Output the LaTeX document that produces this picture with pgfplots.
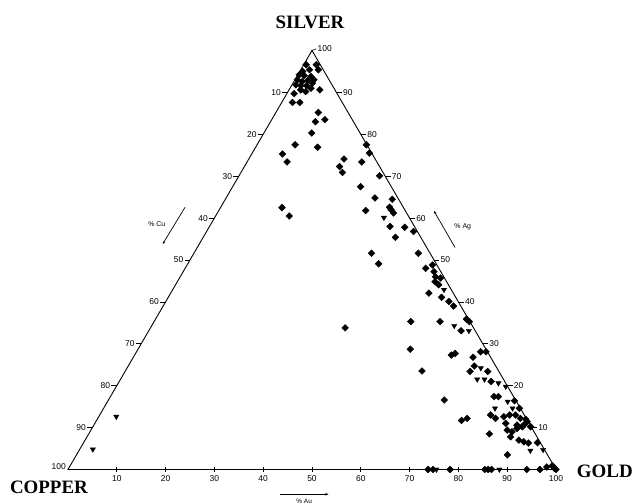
\documentclass[border=0pt]{standalone}
\usepackage{pgfplots}
\pgfplotsset{compat=1.18}
\usepackage{pgfplotstable}
\usepackage{fontspec}
\setmainfont{Liberation Serif}
\newfontfamily\tickfont{Liberation Sans}
\usetikzlibrary{arrows.meta}

% compositions in percent: au = gold, ag = silver (copper = 100 - au - ag)
\pgfplotstableread{
au ag
0.5 96.6
2.6 96.6
3.6 95.4
0.6 95.0
1.8 95.4
0.3 94.2
1.4 94.0
2.9 93.8
0.5 93.0
1.7 92.6
2.7 92.8
3.9 93.0
0.8 91.8
1.9 91.6
3.1 91.6
4.0 92.2
2.4 90.6
3.6 90.2
4.3 91.0
6.3 90.6
1.5 89.7
2.2 87.6
3.7 87.6
8.7 85.2
9.2 83.0
10.9 83.5
9.8 80.3
7.8 77.5
12.7 76.9
6.3 75.3
8.2 73.4
12.6 62.5
15.1 60.5
22.4 77.5
24.0 75.5
19.5 74.1
23.5 73.4
19.5 72.3
20.8 70.9
28.8 70.1
26.2 67.5
30.5 64.8
34.2 64.5
30.1 61.8
34.6 62.6
35.2 62.0
36.1 61.2
37.0 58.0
40.1 57.8
42.4 56.8
39.4 55.4
36.4 51.6
46.0 51.6
39.1 49.1
49.3 48.0
50.3 48.8
51.4 47.2
52.3 46.0
53.5 45.7
52.8 44.8
52.9 42.1
53.9 44.1
56.0 41.1
58.0 40.1
59.5 39.0
52.6 35.3
58.6 35.3
63.7 35.9
64.6 35.3
64.0 33.1
55.8 28.7
64.9 27.3
65.5 27.7
69.6 26.8
70.5 28.1
71.6 28.1
39.9 33.8
60.8 23.5
70.9 24.7
74.3 23.4
70.7 23.4
76.2 21.0
78.6 17.4
79.5 17.4
83.3 16.4
68.8 16.6
85.2 14.6
80.1 13.0
81.5 12.2
83.0 12.6
84.0 13.0
85.2 13.0
86.6 12.2
87.8 12.0
88.4 11.4
74.8 11.7
75.7 12.2
84.2 11.0
86.7 10.6
88.1 10.6
89.7 10.2
82.1 8.5
85.3 9.4
86.5 9.0
87.1 9.8
88.0 10.2
86.8 7.8
88.9 7.0
90.1 6.6
91.2 6.3
93.0 6.4
88.3 3.5
73.8 0
74.8 0
78.3 0
85.4 0
86.1 0
86.8 0
94.0 0
96.7 0
97.8 0.6
98.8 0.9
99.5 0.3
100 0
}\dots

\pgfplotstableread{
au ag
34.7 60.1
55.6 42.9
62.0 34.3
65.6 33.1
72.5 24.2
73.1 21.5
74.6 21.5
77.9 20.6
79.8 19.8
82.0 16.2
80.2 14.6
83.8 14.6
92.5 4.5
95.0 4.7
3.6 12.6
2.7 4.8
75.5 0
88.4 0
}\tris

\begin{document}
\begin{tikzpicture}
\begin{axis}[x=4.88bp, y=4.19bp, hide axis, clip=false,
  xmin=-13.93, xmax=116.6, ymin=-8.23, ymax=112.05]
  % triangle frame
  \draw[line width=0.9bp, line join=miter] (axis cs:0,0) -- (axis cs:100,0) -- (axis cs:50,100) -- cycle;
  % ticks and labels
  \pgfplotsinvokeforeach{10,20,...,90}{
    \draw[line width=0.6bp] (axis cs:#1,-0.6) -- (axis cs:#1,0.6);
    \node[font=\tickfont\fontsize{8.5}{9}\selectfont, anchor=north, inner sep=0pt] at (axis cs:#1,-1.3) {#1};
    \draw[line width=0.6bp] (axis cs:{#1/2},#1) -- (axis cs:{#1/2-1.1},#1)
      node[anchor=east, inner sep=1bp, font=\tickfont\fontsize{8.5}{9}\selectfont] {\pgfmathparse{int(100-#1)}\pgfmathresult};
    \draw[line width=0.6bp] (axis cs:{100-#1/2},#1) -- (axis cs:{101.1-#1/2},#1)
      node[anchor=west, inner sep=1bp, font=\tickfont\fontsize{8.5}{9}\selectfont] {#1};
  }
  \node[font=\tickfont\fontsize{8.5}{9}\selectfont, anchor=north, inner sep=0pt] at (axis cs:100,-1.3) {100};
  \draw[line width=0.6bp] (axis cs:50,100) -- (axis cs:50.9,100.4)
    node[anchor=west, inner sep=1bp, font=\tickfont\fontsize{8.5}{9}\selectfont] {100};
  \node[anchor=east, inner sep=1bp, font=\tickfont\fontsize{8.5}{9}\selectfont] at (axis cs:-0.2,0.6) {100};
  % vertex names
  \node[font=\fontsize{19}{20}\selectfont\bfseries] at (axis cs:49.6,106.8) {SILVER};
  \node[font=\fontsize{19}{20}\selectfont\bfseries] at (axis cs:-3.9,-4.2) {COPPER};
  \node[font=\fontsize{19}{20}\selectfont\bfseries] at (axis cs:110.0,-0.4) {GOLD};
  % direction arrows
  \draw[line width=0.7bp, -{Stealth[length=3bp]}] (axis cs:24.0,62.6) -- (axis cs:19.4,53.8);
  \node[font=\tickfont\fontsize{7}{8}\selectfont] at (axis cs:18.2,58.6) {\% Cu};
  \draw[line width=0.7bp, -{Stealth[length=3bp]}] (axis cs:79.3,53.0) -- (axis cs:75.0,61.7);
  \node[font=\tickfont\fontsize{7}{8}\selectfont] at (axis cs:80.9,57.9) {\% Ag};
  \draw[line width=0.7bp, -{Stealth[length=3.5bp]}] (axis cs:43.4,-5.9) -- (axis cs:53.4,-5.9);
  \node[font=\tickfont\fontsize{6.5}{7}\selectfont, anchor=south, inner sep=0.5bp] at (axis cs:48.4,-8.2) {\% Au};
  % data
  \addplot[only marks, mark=square*, mark size=2.4bp, mark options={rotate=45, fill=black, draw=black}]
    table[x expr=\thisrow{au}+0.5*\thisrow{ag}, y=ag] {\dots};
  \addplot[only marks, mark=triangle*, mark size=3.0bp, mark options={rotate=180, fill=black, draw=black}]
    table[x expr=\thisrow{au}+0.5*\thisrow{ag}, y=ag] {\tris};
  \coordinate (bl) at (axis cs:-13.93,-8.23);
  \coordinate (tr) at (axis cs:116.6,112.05);
\end{axis}
\pgfresetboundingbox
\useasboundingbox (bl) rectangle (tr);
\end{tikzpicture}
\end{document}
